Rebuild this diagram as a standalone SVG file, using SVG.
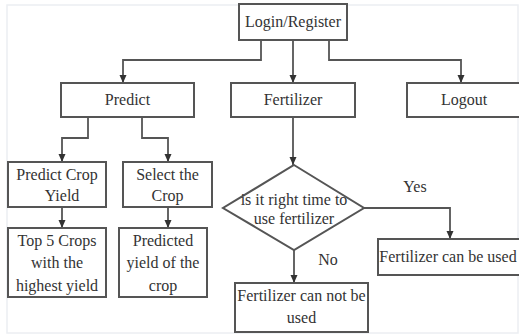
<svg xmlns="http://www.w3.org/2000/svg" width="519" height="335" viewBox="0 0 519 335">
<style>
.box{fill:#fff;stroke:#555;stroke-width:2}
.ln{fill:none;stroke:#555;stroke-width:1.8}
.t{font-family:"Liberation Serif",serif;font-size:16px;fill:#333;text-anchor:middle}
</style>
<defs>
<marker id="ah" markerWidth="8" markerHeight="8" refX="8" refY="4" orient="auto" markerUnits="userSpaceOnUse" viewBox="0 0 8 8">
<path d="M0,0.5 L8,4 L0,7.5 Z" fill="#333"/>
</marker>
</defs>
<rect x="7" y="5" width="511" height="328" fill="#fff" stroke="#eceef2" stroke-width="1.5"/>
<g id="connectors">
<path class="ln" d="M261,40 V60 H123 V83" marker-end="url(#ah)"/>
<path class="ln" d="M293,40 V83" marker-end="url(#ah)"/>
<path class="ln" d="M329,40 V60 H461 V83" marker-end="url(#ah)"/>
<path class="ln" d="M88,117 V138 H62 V162" marker-end="url(#ah)"/>
<path class="ln" d="M142,117 V138 H168 V162" marker-end="url(#ah)"/>
<path class="ln" d="M62,207 V228" marker-end="url(#ah)"/>
<path class="ln" d="M168,207 V228" marker-end="url(#ah)"/>
<path class="ln" d="M293,117 V165" marker-end="url(#ah)"/>
<path class="ln" d="M364,208 H450 V239" marker-end="url(#ah)"/>
<path class="ln" d="M294,250 V283" marker-end="url(#ah)"/>
<text class="t" x="415" y="192">Yes</text>
<text class="t" x="328" y="265">No</text>
</g>
<g id="login"><rect class="box" x="239" y="4" width="108" height="36"/><text class="t" x="293" y="27">Login/Register</text></g>
<g id="predict"><rect class="box" x="61" y="83" width="133" height="34"/><text class="t" x="127.5" y="105">Predict</text></g>
<g id="fertilizer"><rect class="box" x="231" y="83" width="124" height="34"/><text class="t" x="293" y="105">Fertilizer</text></g>
<g id="logout"><rect class="box" x="407" y="83" width="114" height="34"/><text class="t" x="464" y="105">Logout</text></g>
<g id="predict-crop-yield"><rect class="box" x="8" y="162" width="98" height="45"/><text class="t" x="57" y="180">Predict Crop</text><text class="t" x="62" y="201">Yield</text></g>
<g id="select-crop"><rect class="box" x="123" y="162" width="89" height="45"/><text class="t" x="167.5" y="180">Select the</text><text class="t" x="167.5" y="201">Crop</text></g>
<g id="top5"><rect class="box" x="8" y="228" width="98" height="69"/><text class="t" x="57" y="246">Top 5 Crops</text><text class="t" x="57" y="268">with the</text><text class="t" x="57" y="291">highest yield</text></g>
<g id="predicted-yield"><rect class="box" x="119" y="228" width="88" height="69"/><text class="t" x="163" y="246">Predicted</text><text class="t" x="163" y="268">yield of the</text><text class="t" x="163" y="291">crop</text></g>
<g id="decision"><path class="box" d="M294,165 L364,208 L294,250 L223,208 Z"/><text class="t" x="294" y="205">is it right time to</text><text class="t" x="294" y="224">use fertilizer</text></g>
<g id="can-be-used"><rect class="box" x="378" y="239" width="142" height="36"/><text class="t" x="448" y="262">Fertilizer can be used</text></g>
<g id="can-not-be-used"><rect class="box" x="235" y="283" width="133" height="49"/><text class="t" x="301.5" y="301">Fertilizer can not be</text><text class="t" x="301.5" y="323">used</text></g>
</svg>
